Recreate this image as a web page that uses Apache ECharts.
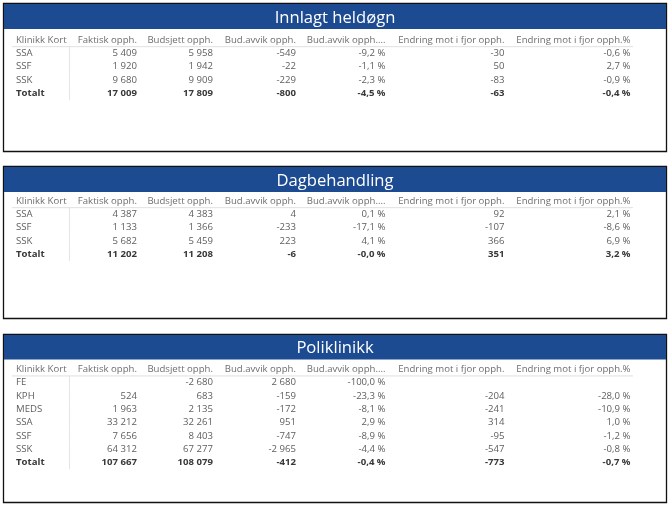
<!DOCTYPE html>
<html><head><meta charset="utf-8">
<script src="https://cdn.jsdelivr.net/npm/echarts@6/dist/echarts.min.js"></script>
<style>html,body{margin:0;padding:0;background:#fff}#c{width:670px;height:507px}</style>
</head><body><div id="c"></div>
<script>
// ---------- data ----------
const titles = ['Innlagt heldøgn', 'Dagbehandling', 'Poliklinikk'];
const headers = ['Klinikk Kort', 'Faktisk opph.', 'Budsjett opph.', 'Bud.avvik opph.', 'Bud.avvik opph....', 'Endring mot i fjor opph.', 'Endring mot i fjor opph.%'];

const innKlinikk   = ['SSA', 'SSF', 'SSK', 'Totalt'];
const innFaktisk   = [5409, 1920, 9680, 17009];
const innBudsjett  = [5958, 1942, 9909, 17809];
const innAvvik     = [-549, -22, -229, -800];
const innAvvikPct  = [-9.2, -1.1, -2.3, -4.5];
const innEndring   = [-30, 50, -83, -63];
const innEndringPct= [-0.6, 2.7, -0.9, -0.4];

const dagKlinikk   = ['SSA', 'SSF', 'SSK', 'Totalt'];
const dagFaktisk   = [4387, 1133, 5682, 11202];
const dagBudsjett  = [4383, 1366, 5459, 11208];
const dagAvvik     = [4, -233, 223, -6];
const dagAvvikPct  = [0.1, -17.1, 4.1, -0.0];
const dagEndring   = [92, -107, 366, 351];
const dagEndringPct= [2.1, -8.6, 6.9, 3.2];

const polKlinikk   = ['FE', 'KPH', 'MEDS', 'SSA', 'SSF', 'SSK', 'Totalt'];
const polFaktisk   = [null, 524, 1963, 33212, 7656, 64312, 107667];
const polBudsjett  = [-2680, 683, 2135, 32261, 8403, 67277, 108079];
const polAvvik     = [2680, -159, -172, 951, -747, -2965, -412];
const polAvvikPct  = [-100.0, -23.3, -8.1, 2.9, -8.9, -4.4, -0.4];
const polEndring   = [null, -204, -241, 314, -95, -547, -773];
const polEndringPct= [null, -28.0, -10.9, 1.0, -1.2, -0.8, -0.7];

// ---------- layout / style ----------
const FONT = '"Open Sans", "Noto Sans", sans-serif';
const FS = 9.6;
const ROW_H = 13.33;
const colAnchor = [16, 137, 213, 296, 385.5, 504.5, 630.5];
const panels = [
  {y: 3, h: 148, bar: 25, headerY: 40},
  {y: 166, h: 152, bar: 25, headerY: 201},
  {y: 334, h: 168, bar: 24.5, headerY: 369.3}
];

function fmtInt(v) {
  if (v === null || v === undefined) return '';
  const s = Math.abs(Math.round(v)).toString().replace(/\B(?=(\d{3})+(?!\d))/g, '\u00a0');
  return (v < 0 ? '-' : '') + s;
}
function fmtPct(v) {
  if (v === null || v === undefined) return '';
  const neg = v < 0 || Object.is(v, -0);
  return (neg ? '-' : '') + Math.abs(v).toFixed(1).replace('.', ',') + '\u00a0%';
}

const tables = [
  [innKlinikk, innFaktisk, innBudsjett, innAvvik, innAvvikPct, innEndring, innEndringPct],
  [dagKlinikk, dagFaktisk, dagBudsjett, dagAvvik, dagAvvikPct, dagEndring, dagEndringPct],
  [polKlinikk, polFaktisk, polBudsjett, polAvvik, polAvvikPct, polEndring, polEndringPct]
];

function rowsOf(t) {
  const rows = [headers.slice()];
  for (let i = 0; i < t[0].length; i++) {
    rows.push([t[0][i], fmtInt(t[1][i]), fmtInt(t[2][i]), fmtInt(t[3][i]), fmtPct(t[4][i]), fmtInt(t[5][i]), fmtPct(t[6][i])]);
  }
  return rows;
}

const grids = [], xAxes = [], yAxes = [], series = [], graphics = [];
tables.forEach((t, k) => {
  const rows = rowsOf(t);
  const p = panels[k];
  const n = rows.length;
  grids.push({left: 0, width: 670, top: p.headerY - ROW_H / 2, height: ROW_H * n});
  xAxes.push({gridIndex: k, type: 'value', min: 0, max: 670, show: false});
  yAxes.push({gridIndex: k, type: 'category', inverse: true, show: false,
    data: rows.map((r, i) => 'r' + i)});
  const lastRow = n - 1;
  series.push({
    type: 'custom', xAxisIndex: k, yAxisIndex: k, silent: true,
    data: rows.map((r, i) => [0, i]),
    renderItem: function (params, api) {
      const r = params.dataIndex;
      const row = rows[r];
      const yc = api.coord([0, r])[1];
      const band = api.size([0, 1])[1];
      const children = [];
      const isHeader = r === 0;
      const isTotal = r === lastRow;
      row.forEach((txt, c) => {
        children.push({
          type: 'text',
          style: {
            text: txt,
            x: api.coord([colAnchor[c], r])[0],
            y: yc,
            align: c === 0 ? 'left' : 'right',
            verticalAlign: 'middle',
            fontFamily: FONT,
            fontSize: FS,
            fontWeight: isTotal ? 'bold' : 'normal',
            fill: isHeader ? '#6e6e6e' : (isTotal ? '#383838' : '#5e5e5e')
          }
        });
      });
      if (isHeader) {
        children.push({type: 'line', shape: {x1: 12, y1: yc + band / 2, x2: 633, y2: yc + band / 2},
          style: {stroke: '#e0e0e0', lineWidth: 1}});
      } else {
        children.push({type: 'line', shape: {x1: 69.5, y1: yc - band / 2, x2: 69.5, y2: yc + band / 2},
          style: {stroke: '#e4e4e4', lineWidth: 1}});
      }
      return {type: 'group', children: children};
    }
  });
  graphics.push({type: 'rect', shape: {x: 3.5, y: p.y + 0.5, width: 663, height: p.h},
    style: {fill: '#ffffff', stroke: '#111111', lineWidth: 1.3}, z: -10});
  graphics.push({type: 'rect', shape: {x: 4, y: p.y + 1, width: 662, height: p.bar},
    style: {fill: '#1c4b91'}, z: -9});
  graphics.push({type: 'text', x: 335, y: p.y + 1 + p.bar / 2 + 1.5,
    style: {text: titles[k], fill: '#ffffff', fontFamily: FONT, fontSize: 16.6, align: 'center', verticalAlign: 'middle'}, z: -8});
});

const chart = echarts.init(document.getElementById('c'), null, {renderer: 'canvas'});
chart.setOption({
  animation: false,
  backgroundColor: '#ffffff',
  grid: grids, xAxis: xAxes, yAxis: yAxes, series: series,
  graphic: {elements: graphics}
});
</script></body></html>
